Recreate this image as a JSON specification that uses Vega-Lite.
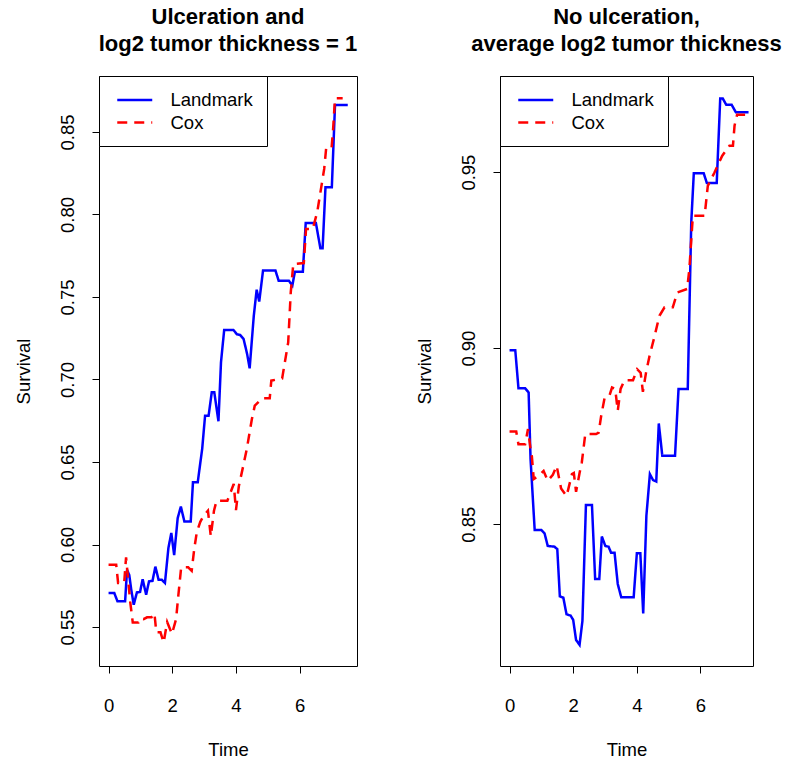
{
  "$schema": "https://vega.github.io/schema/vega-lite/v6.json",
  "background": "white",
  "padding": {"left": 13, "top": 5, "right": 0, "bottom": 5},
  "datasets": {
    "left": [
      {"model":"Landmark","t":0,"s":0.5706},{"model":"Landmark","t":0.18,"s":0.5706},{"model":"Landmark","t":0.28,"s":0.5656},{"model":"Landmark","t":0.52,"s":0.5656},{"model":"Landmark","t":0.58,"s":0.5847},{"model":"Landmark","t":0.65,"s":0.5815},{"model":"Landmark","t":0.71,"s":0.573},{"model":"Landmark","t":0.79,"s":0.5635},{"model":"Landmark","t":0.89,"s":0.571},{"model":"Landmark","t":0.99,"s":0.5713},{"model":"Landmark","t":1.07,"s":0.579},{"model":"Landmark","t":1.18,"s":0.5696},{"model":"Landmark","t":1.27,"s":0.5777},{"model":"Landmark","t":1.38,"s":0.578},{"model":"Landmark","t":1.47,"s":0.5866},{"model":"Landmark","t":1.57,"s":0.5787},{"model":"Landmark","t":1.67,"s":0.5787},{"model":"Landmark","t":1.77,"s":0.5767},{"model":"Landmark","t":1.88,"s":0.598},{"model":"Landmark","t":1.97,"s":0.607},{"model":"Landmark","t":2.06,"s":0.5936},{"model":"Landmark","t":2.17,"s":0.616},{"model":"Landmark","t":2.27,"s":0.623},{"model":"Landmark","t":2.38,"s":0.614},{"model":"Landmark","t":2.58,"s":0.614},{"model":"Landmark","t":2.65,"s":0.6377},{"model":"Landmark","t":2.8,"s":0.6377},{"model":"Landmark","t":2.88,"s":0.6494},{"model":"Landmark","t":2.94,"s":0.658},{"model":"Landmark","t":3.03,"s":0.678},{"model":"Landmark","t":3.14,"s":0.678},{"model":"Landmark","t":3.24,"s":0.6922},{"model":"Landmark","t":3.32,"s":0.6922},{"model":"Landmark","t":3.45,"s":0.6747},{"model":"Landmark","t":3.53,"s":0.7104},{"model":"Landmark","t":3.63,"s":0.73},{"model":"Landmark","t":3.92,"s":0.73},{"model":"Landmark","t":4.03,"s":0.7274},{"model":"Landmark","t":4.13,"s":0.727},{"model":"Landmark","t":4.24,"s":0.7245},{"model":"Landmark","t":4.35,"s":0.7155},{"model":"Landmark","t":4.43,"s":0.7068},{"model":"Landmark","t":4.56,"s":0.7387},{"model":"Landmark","t":4.65,"s":0.7544},{"model":"Landmark","t":4.73,"s":0.7472},{"model":"Landmark","t":4.85,"s":0.766},{"model":"Landmark","t":5.24,"s":0.766},{"model":"Landmark","t":5.34,"s":0.7599},{"model":"Landmark","t":5.66,"s":0.7599},{"model":"Landmark","t":5.77,"s":0.7569},{"model":"Landmark","t":5.85,"s":0.7653},{"model":"Landmark","t":6.1,"s":0.7653},{"model":"Landmark","t":6.19,"s":0.7948},{"model":"Landmark","t":6.51,"s":0.7948},{"model":"Landmark","t":6.65,"s":0.7795},{"model":"Landmark","t":6.72,"s":0.7795},{"model":"Landmark","t":6.81,"s":0.8165},{"model":"Landmark","t":7.01,"s":0.8165},{"model":"Landmark","t":7.11,"s":0.8664},{"model":"Landmark","t":7.51,"s":0.8664},
      {"model":"Cox","t":0,"s":0.5878},{"model":"Cox","t":0.24,"s":0.5878},{"model":"Cox","t":0.3,"s":0.5767},{"model":"Cox","t":0.49,"s":0.5767},{"model":"Cox","t":0.55,"s":0.5922},{"model":"Cox","t":0.68,"s":0.5652},{"model":"Cox","t":0.76,"s":0.5528},{"model":"Cox","t":0.94,"s":0.5528},{"model":"Cox","t":1.0,"s":0.5552},{"model":"Cox","t":1.1,"s":0.5548},{"model":"Cox","t":1.21,"s":0.5559},{"model":"Cox","t":1.35,"s":0.556},{"model":"Cox","t":1.44,"s":0.5583},{"model":"Cox","t":1.5,"s":0.5468},{"model":"Cox","t":1.63,"s":0.5468},{"model":"Cox","t":1.73,"s":0.5407},{"model":"Cox","t":1.84,"s":0.553},{"model":"Cox","t":1.99,"s":0.5458},{"model":"Cox","t":2.12,"s":0.5548},{"model":"Cox","t":2.19,"s":0.569},{"model":"Cox","t":2.28,"s":0.5862},{"model":"Cox","t":2.5,"s":0.5862},{"model":"Cox","t":2.61,"s":0.5841},{"model":"Cox","t":2.69,"s":0.5973},{"model":"Cox","t":2.77,"s":0.6074},{"model":"Cox","t":2.88,"s":0.6138},{"model":"Cox","t":2.99,"s":0.6175},{"model":"Cox","t":3.12,"s":0.6205},{"model":"Cox","t":3.21,"s":0.605},{"model":"Cox","t":3.31,"s":0.6205},{"model":"Cox","t":3.39,"s":0.6265},{"model":"Cox","t":3.73,"s":0.6265},{"model":"Cox","t":3.93,"s":0.6367},{"model":"Cox","t":4.0,"s":0.6209},{"model":"Cox","t":4.09,"s":0.6353},{"model":"Cox","t":4.23,"s":0.6478},{"model":"Cox","t":4.34,"s":0.6579},{"model":"Cox","t":4.5,"s":0.676},{"model":"Cox","t":4.59,"s":0.6841},{"model":"Cox","t":4.82,"s":0.6886},{"model":"Cox","t":5.06,"s":0.6886},{"model":"Cox","t":5.11,"s":0.6993},{"model":"Cox","t":5.45,"s":0.7007},{"model":"Cox","t":5.64,"s":0.7225},{"model":"Cox","t":5.72,"s":0.7528},{"model":"Cox","t":5.8,"s":0.77},{"model":"Cox","t":6.13,"s":0.7706},{"model":"Cox","t":6.2,"s":0.7912},{"model":"Cox","t":6.41,"s":0.7912},{"model":"Cox","t":6.55,"s":0.8013},{"model":"Cox","t":6.77,"s":0.8276},{"model":"Cox","t":6.83,"s":0.8397},{"model":"Cox","t":7.0,"s":0.8397},{"model":"Cox","t":7.05,"s":0.8518},{"model":"Cox","t":7.11,"s":0.8704},{"model":"Cox","t":7.35,"s":0.8704}
    ],
    "right": [
      {"model":"Landmark","t":0,"s":0.8994},{"model":"Landmark","t":0.18,"s":0.8994},{"model":"Landmark","t":0.28,"s":0.8886},{"model":"Landmark","t":0.49,"s":0.8886},{"model":"Landmark","t":0.6,"s":0.8874},{"model":"Landmark","t":0.66,"s":0.8685},{"model":"Landmark","t":0.79,"s":0.8483},{"model":"Landmark","t":1.0,"s":0.8483},{"model":"Landmark","t":1.1,"s":0.8474},{"model":"Landmark","t":1.2,"s":0.8438},{"model":"Landmark","t":1.41,"s":0.8436},{"model":"Landmark","t":1.5,"s":0.8429},{"model":"Landmark","t":1.58,"s":0.8295},{"model":"Landmark","t":1.69,"s":0.8291},{"model":"Landmark","t":1.79,"s":0.8244},{"model":"Landmark","t":1.92,"s":0.824},{"model":"Landmark","t":2.0,"s":0.8228},{"model":"Landmark","t":2.09,"s":0.8171},{"model":"Landmark","t":2.2,"s":0.8157},{"model":"Landmark","t":2.29,"s":0.8225},{"model":"Landmark","t":2.4,"s":0.8554},{"model":"Landmark","t":2.59,"s":0.8554},{"model":"Landmark","t":2.69,"s":0.8344},{"model":"Landmark","t":2.82,"s":0.8344},{"model":"Landmark","t":2.9,"s":0.8465},{"model":"Landmark","t":3.01,"s":0.8438},{"model":"Landmark","t":3.11,"s":0.8436},{"model":"Landmark","t":3.19,"s":0.8419},{"model":"Landmark","t":3.3,"s":0.8419},{"model":"Landmark","t":3.4,"s":0.833},{"model":"Landmark","t":3.51,"s":0.8292},{"model":"Landmark","t":3.9,"s":0.8292},{"model":"Landmark","t":4.0,"s":0.8417},{"model":"Landmark","t":4.11,"s":0.8417},{"model":"Landmark","t":4.2,"s":0.8246},{"model":"Landmark","t":4.3,"s":0.8524},{"model":"Landmark","t":4.41,"s":0.8642},{"model":"Landmark","t":4.51,"s":0.8625},{"model":"Landmark","t":4.61,"s":0.8621},{"model":"Landmark","t":4.69,"s":0.8786},{"model":"Landmark","t":4.8,"s":0.8694},{"model":"Landmark","t":5.2,"s":0.8694},{"model":"Landmark","t":5.31,"s":0.8884},{"model":"Landmark","t":5.6,"s":0.8884},{"model":"Landmark","t":5.71,"s":0.9357},{"model":"Landmark","t":5.79,"s":0.9497},{"model":"Landmark","t":6.1,"s":0.9497},{"model":"Landmark","t":6.2,"s":0.9469},{"model":"Landmark","t":6.51,"s":0.9469},{"model":"Landmark","t":6.62,"s":0.9709},{"model":"Landmark","t":6.7,"s":0.9709},{"model":"Landmark","t":6.81,"s":0.9691},{"model":"Landmark","t":6.98,"s":0.9691},{"model":"Landmark","t":7.11,"s":0.967},{"model":"Landmark","t":7.51,"s":0.967},
      {"model":"Cox","t":0,"s":0.8763},{"model":"Cox","t":0.21,"s":0.8763},{"model":"Cox","t":0.28,"s":0.8727},{"model":"Cox","t":0.49,"s":0.8727},{"model":"Cox","t":0.58,"s":0.877},{"model":"Cox","t":0.66,"s":0.8713},{"model":"Cox","t":0.7,"s":0.8694},{"model":"Cox","t":0.76,"s":0.8628},{"model":"Cox","t":0.94,"s":0.8639},{"model":"Cox","t":1.07,"s":0.8651},{"model":"Cox","t":1.2,"s":0.8623},{"model":"Cox","t":1.36,"s":0.864},{"model":"Cox","t":1.48,"s":0.8666},{"model":"Cox","t":1.62,"s":0.8601},{"model":"Cox","t":1.79,"s":0.858},{"model":"Cox","t":1.85,"s":0.8601},{"model":"Cox","t":1.96,"s":0.8642},{"model":"Cox","t":2.02,"s":0.8645},{"model":"Cox","t":2.09,"s":0.8592},{"model":"Cox","t":2.2,"s":0.8645},{"model":"Cox","t":2.27,"s":0.8675},{"model":"Cox","t":2.38,"s":0.8756},{"model":"Cox","t":2.72,"s":0.8756},{"model":"Cox","t":2.8,"s":0.876},{"model":"Cox","t":2.88,"s":0.8808},{"model":"Cox","t":2.99,"s":0.886},{"model":"Cox","t":3.14,"s":0.8865},{"model":"Cox","t":3.22,"s":0.8888},{"model":"Cox","t":3.32,"s":0.8884},{"model":"Cox","t":3.4,"s":0.8822},{"model":"Cox","t":3.49,"s":0.8884},{"model":"Cox","t":3.61,"s":0.8909},{"model":"Cox","t":3.88,"s":0.8909},{"model":"Cox","t":4.01,"s":0.894},{"model":"Cox","t":4.12,"s":0.893},{"model":"Cox","t":4.19,"s":0.8876},{"model":"Cox","t":4.29,"s":0.8931},{"model":"Cox","t":4.4,"s":0.8978},{"model":"Cox","t":4.56,"s":0.9035},{"model":"Cox","t":4.71,"s":0.9092},{"model":"Cox","t":4.87,"s":0.9116},{"model":"Cox","t":5.13,"s":0.9116},{"model":"Cox","t":5.27,"s":0.9158},{"model":"Cox","t":5.58,"s":0.9168},{"model":"Cox","t":5.65,"s":0.9224},{"model":"Cox","t":5.76,"s":0.9376},{"model":"Cox","t":6.13,"s":0.9376},{"model":"Cox","t":6.23,"s":0.9461},{"model":"Cox","t":6.44,"s":0.9499},{"model":"Cox","t":6.68,"s":0.9546},{"model":"Cox","t":6.91,"s":0.9575},{"model":"Cox","t":7.02,"s":0.9575},{"model":"Cox","t":7.07,"s":0.9632},{"model":"Cox","t":7.15,"s":0.9663},{"model":"Cox","t":7.51,"s":0.9663}
    ]
  },
  "hconcat": [
    {
      "width": 258, "height": 590,
      "title": {"text": ["Ulceration and", "log2 tumor thickness = 1"]},
      "data": {"name": "left"},
      "mark": {"type": "line", "strokeWidth": 2.5},
      "encoding": {
        "x": {"field": "t", "type": "quantitative", "scale": {"domain": [-0.3, 7.8], "nice": false, "zero": false}, "axis": {"values": [0, 2, 4, 6], "title": "Time"}},
        "y": {"field": "s", "type": "quantitative", "scale": {"domain": [0.5264, 0.8839], "nice": false, "zero": false}, "axis": {"values": [0.55, 0.6, 0.65, 0.7, 0.75, 0.8, 0.85], "format": ".2f", "title": "Survival"}},
        "color": {"field": "model", "type": "nominal", "sort": ["Landmark", "Cox"], "scale": {"domain": ["Landmark", "Cox"], "range": ["#0000ff", "#ff0000"]}, "legend": {"title": null}},
        "strokeDash": {"field": "model", "type": "nominal", "sort": ["Landmark", "Cox"], "scale": {"domain": ["Landmark", "Cox"], "range": [[1, 0], [10, 7]]}, "legend": {"title": null}}
      }
    },
    {
      "width": 253, "height": 590,
      "title": {"text": ["No ulceration,", "average log2 tumor thickness"]},
      "data": {"name": "right"},
      "mark": {"type": "line", "strokeWidth": 2.5},
      "encoding": {
        "x": {"field": "t", "type": "quantitative", "scale": {"domain": [-0.3, 7.65], "nice": false, "zero": false}, "axis": {"values": [0, 2, 4, 6], "title": "Time"}},
        "y": {"field": "s", "type": "quantitative", "scale": {"domain": [0.8097, 0.9773], "nice": false, "zero": false}, "axis": {"values": [0.85, 0.9, 0.95], "format": ".2f", "title": "Survival"}},
        "color": {"field": "model", "type": "nominal", "sort": ["Landmark", "Cox"], "scale": {"domain": ["Landmark", "Cox"], "range": ["#0000ff", "#ff0000"]}, "legend": {"title": null}},
        "strokeDash": {"field": "model", "type": "nominal", "sort": ["Landmark", "Cox"], "scale": {"domain": ["Landmark", "Cox"], "range": [[1, 0], [10, 7]]}, "legend": {"title": null}}
      }
    }
  ],
  "resolve": {"scale": {"x": "independent", "y": "independent", "color": "independent", "strokeDash": "independent"}, "legend": {"color": "independent", "strokeDash": "independent"}},
  "config": {
    "font": "Liberation Sans",
    "concat": {"spacing": 56},
    "view": {"stroke": "black", "strokeWidth": 1},
    "axis": {"domain": false, "grid": false, "tickColor": "black", "tickSize": 7, "tickWidth": 1, "labelColor": "black", "labelFontSize": 18.5, "titleFontSize": 18.5, "titleFontWeight": "normal", "titleColor": "black", "labelFont": "Liberation Sans", "titleFont": "Liberation Sans"},
    "axisY": {"labelAngle": -90, "labelAlign": "center", "labelBaseline": "bottom", "labelPadding": 15, "titlePadding": 25},
    "axisX": {"labelPadding": 23, "titlePadding": 26},
    "legend": {"orient": "top-left", "offset": 0, "strokeColor": "black", "fillColor": "white", "padding": 14, "symbolOffset": 11.75, "symbolType": "M-2,0H2", "symbolSize": 306, "symbolStrokeWidth": 2.5, "labelFontSize": 18.5, "labelOffset": 25.75, "rowPadding": 2.5, "labelColor": "black", "labelFont": "Liberation Sans", "cornerRadius": 0},
    "title": {"fontSize": 22, "font": "Liberation Sans", "fontWeight": "bold", "lineHeight": 27, "offset": 20, "color": "black", "anchor": "middle"}
  }
}
